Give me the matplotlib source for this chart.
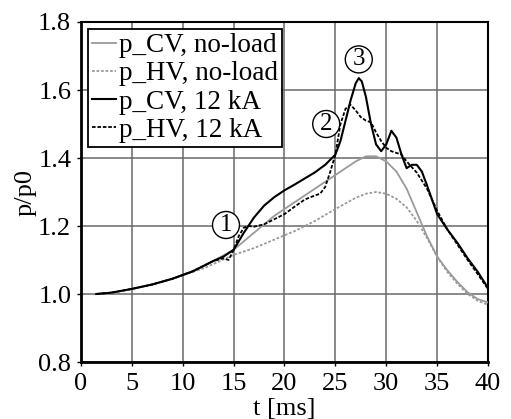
import matplotlib
matplotlib.use("Agg")
import matplotlib.pyplot as plt

plt.rcParams['font.family'] = ['Liberation Serif', 'DejaVu Serif']

# p_CV, no-load (gray solid)
t_cv0 = [1.5, 3, 5, 7, 9, 11, 13, 15, 17, 19, 21, 23, 25, 26, 27, 28, 29, 30, 31, 32, 33, 34, 35, 36, 37, 38, 39, 40]
p_cv0 = [1.0, 1.004, 1.015, 1.028, 1.045, 1.067, 1.097, 1.13, 1.18, 1.23, 1.27, 1.31, 1.35, 1.37, 1.39, 1.405, 1.405,
         1.39, 1.36, 1.31, 1.24, 1.17, 1.11, 1.07, 1.035, 1.005, 0.985, 0.975]

# p_HV, no-load (gray dashed)
t_hv0 = [1.5, 3, 5, 7, 9, 11, 12, 13, 15, 17, 19, 21, 23, 25, 27, 28, 29, 30, 31, 32, 33, 34, 35, 36, 37, 38, 39, 40]
p_hv0 = [1.0, 1.004, 1.015, 1.028, 1.045, 1.065, 1.075, 1.088, 1.115, 1.135, 1.16, 1.185, 1.215, 1.25, 1.283, 1.295,
         1.3, 1.295, 1.28, 1.255, 1.215, 1.165, 1.11, 1.065, 1.03, 1.0, 0.98, 0.968]

# p_CV, 12 kA (black solid)
t_cv12 = [1.5, 3, 5, 7, 9, 11, 13, 14, 15, 16, 17, 18, 19, 20, 21, 22, 23, 24, 25, 25.5, 26, 26.5, 27, 27.3, 27.6, 28,
          28.5, 29, 29.5, 30, 30.5, 31, 31.5, 32, 32.5, 33, 33.5, 34, 35, 36, 37, 38, 39, 40]
p_cv12 = [1.0, 1.004, 1.015, 1.028, 1.045, 1.067, 1.097, 1.11, 1.13, 1.18, 1.225, 1.26, 1.285, 1.305, 1.322, 1.34,
          1.358, 1.38, 1.41, 1.45, 1.51, 1.57, 1.62, 1.635, 1.625, 1.58, 1.5, 1.44, 1.42, 1.44, 1.48, 1.46, 1.41,
          1.37, 1.38, 1.38, 1.36, 1.32, 1.235, 1.19, 1.15, 1.105, 1.065, 1.018]

# p_HV, 12 kA (black dashed)
t_hv12 = [1.5, 3, 5, 7, 9, 11, 13, 14, 14.5, 15, 15.5, 16, 16.5, 17, 18, 19, 20, 21, 22, 23, 23.5, 24, 24.5, 25, 25.5,
          26, 26.5, 27, 27.5, 28, 28.5, 29, 29.5, 30, 30.5, 31, 31.5, 32, 33, 34, 35, 36, 37, 38, 39, 40]
p_hv12 = [1.0, 1.004, 1.015, 1.028, 1.045, 1.067, 1.097, 1.105, 1.10, 1.13, 1.17, 1.195, 1.20, 1.198, 1.205, 1.22,
          1.235, 1.257, 1.278, 1.29, 1.295, 1.315, 1.36, 1.41, 1.5, 1.545, 1.556, 1.54, 1.52, 1.51, 1.505, 1.475,
          1.45, 1.43, 1.42, 1.415, 1.41, 1.39, 1.357, 1.31, 1.245, 1.19, 1.145, 1.1, 1.058, 1.015]

labels = ['p_CV, no-load', 'p_HV, no-load', 'p_CV, 12 kA', 'p_HV, 12 kA']
x_ticks = [0, 5, 10, 15, 20, 25, 30, 35, 40]
y_ticks = [0.8, 1.0, 1.2, 1.4, 1.6, 1.8]
y_tick_labels = ['0.8', '1.0', '1.2', '1.4', '1.6', '1.8']

# annotations: label, t, p
ann_labels = ['1', '2', '3']
ann_t = [14.25, 24.1, 27.3]
ann_p = [1.203, 1.50, 1.69]

fig = plt.figure(figsize=(5.11, 4.19), dpi=100)
ax = fig.add_axes([0.1585, 0.136, 0.7965, 0.8115])

gray = '#9a9a9a'
ax.plot(t_cv0, p_cv0, color=gray, lw=1.3, label=labels[0], zorder=3)
ax.plot(t_hv0, p_hv0, color=gray, lw=1.3, ls=(0, (1.5, 1)), label=labels[1], zorder=3)
ax.plot(t_cv12, p_cv12, color='black', lw=1.5, label=labels[2], zorder=4)
ax.plot(t_hv12, p_hv12, color='black', lw=1.3, ls=(0, (2, 1)), label=labels[3], zorder=4)

ax.set_xlim(0, 40)
ax.set_ylim(0.8, 1.8)
ax.set_xticks(x_ticks)
ax.set_yticks(y_ticks)
ax.set_yticklabels(y_tick_labels)
ax.tick_params(labelsize=19, length=3, width=1, direction='out')
ax.tick_params(axis='x', pad=5)
ax.tick_params(axis='y', pad=4)
ax.grid(True, color='#6a6a6a', lw=1.1)
ax.set_axisbelow(True)
for s in ax.spines.values():
    s.set_linewidth(1.5)
    s.set_color('black')
ax.spines['left'].set_linewidth(2)
ax.spines['bottom'].set_linewidth(2)

ax.set_xlabel('t [ms]', fontsize=19, labelpad=2)
ax.set_ylabel('p/p0', fontsize=19, labelpad=1)

for lab, tx, py in zip(ann_labels, ann_t, ann_p):
    ax.text(tx, py, lab, fontsize=18, ha='center', va='center', zorder=6,
            bbox=dict(boxstyle='circle,pad=0.1', fc='white', ec='black', lw=1.0))

leg = ax.legend(loc='upper left', bbox_to_anchor=(0.017, 0.979), borderaxespad=0, fontsize=19.5,
                handlelength=0.9, handletextpad=0.1, labelspacing=0.12, borderpad=0.15,
                fancybox=False, framealpha=1, edgecolor='black')
leg.get_frame().set_linewidth(1.3)

fig.savefig('out.png', dpi=100)
